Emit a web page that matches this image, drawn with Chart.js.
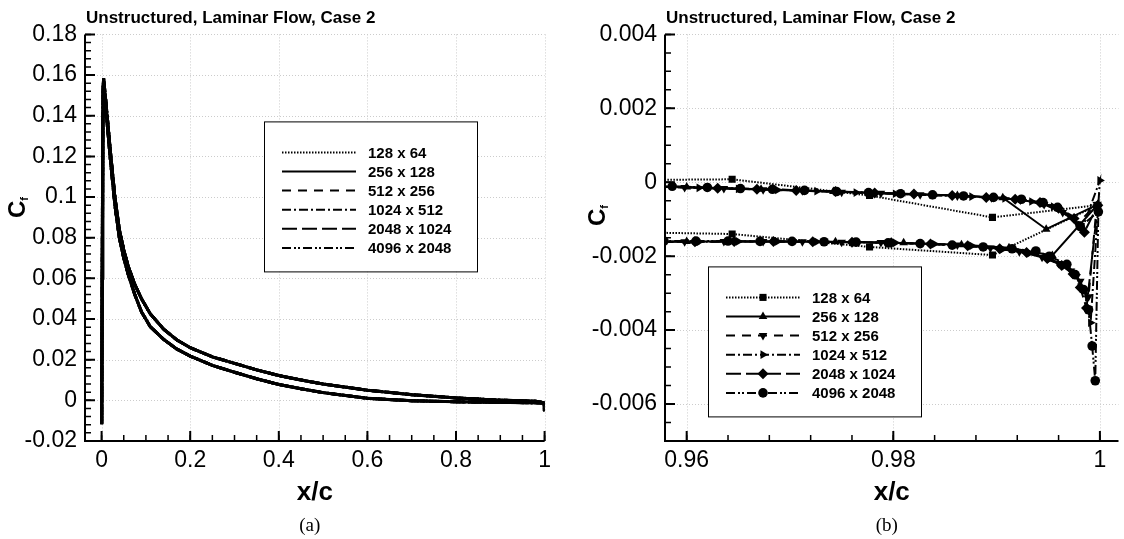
<!DOCTYPE html>
<html>
<head>
<meta charset="utf-8">
<title>Cf - unstructured laminar case 2</title>
<script src="https://cdn.jsdelivr.net/npm/chart.js@4.4.0/dist/chart.umd.min.js"></script>
<style>
  html, body { margin: 0; padding: 0; background: #fff; }
  body { width: 1124px; height: 539px; position: relative; overflow: hidden; }
  .panel { position: absolute; top: 0; height: 539px; }
  #wrapA { left: 0; width: 560px; }
  #wrapB { left: 560px; width: 564px; }
</style>
</head>
<body>
<div class="panel" id="wrapA"><canvas id="cfFull"></canvas></div>
<div class="panel" id="wrapB"><canvas id="cfTrail"></canvas></div>
<script>
const sans = "'Liberation Sans', Arial, Helvetica, sans-serif";
const serif = "'Liberation Serif', 'Times New Roman', serif";

// grid resolutions (legend entries)
const gridLabels = ['128 x 64', '256 x 128', '512 x 256', '1024 x 512', '2048 x 1024', '4096 x 2048'];

// (a) whole chord, one loop TE -> LE -> TE (all grids lie on top of each other)
const chordX = [1.0, 0.98, 0.9, 0.8, 0.7, 0.6, 0.5, 0.45, 0.4, 0.35, 0.3, 0.25, 0.2, 0.17, 0.14, 0.11, 0.09, 0.075, 0.06, 0.05, 0.04, 0.03, 0.02, 0.01, 0.006, 0.003, 0.0008, 0.0003,
                0.0012, 0.003, 0.0045, 0.01, 0.02, 0.03, 0.04, 0.05, 0.06, 0.075, 0.09, 0.11, 0.14, 0.17, 0.2, 0.25, 0.3, 0.35, 0.4, 0.45, 0.5, 0.6, 0.7, 0.8, 0.9, 0.98, 0.999, 0.9996];
const chordCf = [-0.0013, -0.0012, -0.0010, -0.0007, -0.0002, 0.0010, 0.0038, 0.0057, 0.0078, 0.0106, 0.0138, 0.0172, 0.0218, 0.0252, 0.0300, 0.0362, 0.0435, 0.0520, 0.0620, 0.0700, 0.0800, 0.0960, 0.1180, 0.1420, 0.1500, 0.1380, 0.0200, -0.0118,
                 0.0600, 0.1520, 0.1584, 0.1460, 0.1220, 0.1000, 0.0840, 0.0740, 0.0660, 0.0570, 0.0500, 0.0425, 0.0350, 0.0297, 0.0259, 0.0214, 0.0182, 0.0150, 0.0122, 0.0100, 0.0080, 0.0050, 0.0028, 0.0012, 0.0001, -0.0005, -0.0012, -0.0054];

// (b) trailing edge close-up, upper side -> TE -> lower side
const te128X  = [0.9500, 0.9644, 0.9777, 0.9896, 0.9998, 0.9896, 0.9777, 0.9644, 0.9500];
const te128Cf = [0.00005, 0.00008, -0.00036, -0.00095, -0.00062, -0.00197, -0.00175, -0.00140, -0.00133];

const te256X  = [0.9530, 0.9600, 0.9672, 0.9742, 0.9808, 0.9862, 0.9906, 0.9948, 0.9998, 0.9954, 0.9912, 0.9866, 0.9810, 0.9744, 0.9672, 0.9600, 0.9530];
const te256Cf = [-0.00009, -0.00013, -0.00019, -0.00025, -0.00031, -0.00036, -0.00042, -0.00127, -0.00060, -0.00198, -0.00177, -0.00169, -0.00164, -0.00161, -0.00160, -0.00160, -0.00161];

const te512X  = [0.9560, 0.9598, 0.9636, 0.9674, 0.9712, 0.9750, 0.9788, 0.9826, 0.9862, 0.9895, 0.9923, 0.9946, 0.9964, 0.9978, 0.9997,
                 0.9989, 0.9981, 0.9972, 0.9960, 0.9944, 0.9922, 0.9894, 0.9862, 0.9826, 0.9788, 0.9750, 0.9712, 0.9674, 0.9636, 0.9598, 0.9560];
const te512Cf = [-0.00011, -0.00014, -0.00017, -0.00020, -0.00023, -0.00027, -0.00030, -0.00034, -0.00037, -0.00042, -0.00048, -0.00060, -0.00082, -0.00112, -0.00060,
                 -0.00310, -0.00268, -0.00240, -0.00220, -0.00203, -0.00188, -0.00178, -0.00170, -0.00166, -0.00163, -0.00162, -0.00161, -0.00160, -0.00160, -0.00161, -0.00162];

const te1024X  = [0.9575, 0.9612, 0.9650, 0.9688, 0.9726, 0.9764, 0.9802, 0.9840, 0.9876, 0.9908, 0.9934, 0.9955, 0.9971, 0.9983, 1.0000,
                  0.9991, 0.9985, 0.9977, 0.9966, 0.9952, 0.9932, 0.9906, 0.9876, 0.9840, 0.9802, 0.9764, 0.9726, 0.9688, 0.9650, 0.9612, 0.9575];
const te1024Cf = [-0.00012, -0.00015, -0.00018, -0.00021, -0.00024, -0.00028, -0.00031, -0.00035, -0.00039, -0.00044, -0.00052, -0.00066, -0.00092, -0.00125, 0.00005,
                  -0.00380, -0.00290, -0.00250, -0.00226, -0.00207, -0.00192, -0.00181, -0.00172, -0.00167, -0.00164, -0.00162, -0.00161, -0.00160, -0.00160, -0.00161, -0.00161];

const te2048X  = [0.9555, 0.9630, 0.9668, 0.9706, 0.9744, 0.9782, 0.9820, 0.9857, 0.9890, 0.9918, 0.9942, 0.9960, 0.9975, 0.9985, 0.9998,
                  0.9987, 0.9981, 0.9974, 0.9963, 0.9949, 0.9929, 0.9903, 0.9872, 0.9836, 0.9798, 0.9760, 0.9722, 0.9684, 0.9646, 0.9608, 0.9572];
const te2048Cf = [-0.00011, -0.00016, -0.00019, -0.00022, -0.00025, -0.00029, -0.00032, -0.00036, -0.00041, -0.00046, -0.00055, -0.00070, -0.00098, -0.00135, -0.00062,
                  -0.00340, -0.00285, -0.00248, -0.00225, -0.00206, -0.00190, -0.00180, -0.00172, -0.00167, -0.00164, -0.00162, -0.00161, -0.00160, -0.00160, -0.00161, -0.00161];

const te4096X  = [0.9550, 0.9586, 0.9620, 0.9652, 0.9683, 0.9714, 0.9745, 0.9776, 0.9807, 0.9838, 0.9868, 0.9897, 0.9924, 0.9945, 0.9959, 0.9981, 0.99985,
                  0.99955, 0.99925, 0.9989, 0.9984, 0.9976, 0.9968, 0.9951, 0.9938, 0.9915, 0.9887, 0.9857, 0.9826, 0.9795, 0.9764, 0.9733, 0.9702, 0.9671, 0.9640, 0.9609, 0.9578, 0.9550];
const te4096Cf = [-0.00010, -0.00011, -0.00014, -0.00017, -0.00019, -0.00022, -0.00025, -0.00028, -0.00031, -0.00034, -0.00037, -0.00041, -0.00046, -0.00055, -0.00068, -0.00120, -0.00080,
                  -0.00537, -0.00443, -0.00345, -0.00290, -0.00250, -0.00222, -0.00200, -0.00186, -0.00180, -0.00175, -0.00170, -0.00166, -0.00164, -0.00162, -0.00161, -0.00160, -0.00160, -0.00159, -0.00159, -0.00159, -0.00160];

const teX  = [te128X, te256X, te512X, te1024X, te2048X, te4096X];
const teCf = [te128Cf, te256Cf, te512Cf, te1024Cf, te2048Cf, te4096Cf];

// tick labels
const xTicksA = [0, 0.2, 0.4, 0.6, 0.8, 1];
const yTicksA = [-0.02, 0, 0.02, 0.04, 0.06, 0.08, 0.1, 0.12, 0.14, 0.16, 0.18];
const xTicksB = [0.96, 0.98, 1];
const yTicksB = [-0.006, -0.004, -0.002, 0, 0.002, 0.004];

// line look per grid
const dashes = [[1.5, 1.5], [], [9, 7], [9, 3, 2, 3], [15, 5], [9, 3, 2, 2, 2, 3]];
const markers = ['rect', 'triangle', 'triangle', 'triangle', 'rectRot', 'circle'];
const markerTurn = [0, 0, 180, 90, 0, 0];
const markerSize = [5, 5, 5, 5, 5.5, 4.8];

const fmt = v => String(+Number(v).toFixed(6));

function minorValues(min, max, step) {
  const out = [];
  const n0 = Math.ceil(min / step - 1e-9), n1 = Math.floor(max / step + 1e-9);
  for (let n = n0; n <= n1; n++) out.push(n * step);
  return out;
}

// dotted grid, inward ticks, axis lines, boxed legend and the text around the plot
const paper = {
  id: 'paper',
  beforeDatasetsDraw(chart, args, o) {
    const {ctx, chartArea: a} = chart;
    const sx = chart.scales.x, sy = chart.scales.y;
    ctx.save();
    ctx.strokeStyle = '#cccccc';
    ctx.lineWidth = 1;
    ctx.setLineDash([1, 2]);
    ctx.beginPath();
    sx.ticks.forEach(t => {
      const p = Math.round(sx.getPixelForValue(t.value)) + 0.5;
      ctx.moveTo(p, a.top); ctx.lineTo(p, a.bottom);
    });
    sy.ticks.forEach(t => {
      const p = Math.round(sy.getPixelForValue(t.value)) + 0.5;
      ctx.moveTo(a.left, p); ctx.lineTo(a.right, p);
    });
    ctx.stroke();
    ctx.restore();
  },
  afterDatasetsDraw(chart, args, o) {
    const {ctx, chartArea: a} = chart;
    const sx = chart.scales.x, sy = chart.scales.y;
    ctx.save();
    ctx.strokeStyle = '#000';
    ctx.setLineDash([]);

    ctx.lineWidth = 1.5;
    ctx.beginPath();
    minorValues(sx.min, sx.max, o.minorX).forEach(v => {
      const p = sx.getPixelForValue(v);
      ctx.moveTo(p, a.bottom); ctx.lineTo(p, a.bottom - 6);
    });
    minorValues(sy.min, sy.max, o.minorY).forEach(v => {
      const p = sy.getPixelForValue(v);
      ctx.moveTo(a.left, p); ctx.lineTo(a.left + 6, p);
    });
    ctx.stroke();

    ctx.lineWidth = 2;
    ctx.beginPath();
    sx.ticks.forEach(t => {
      const p = sx.getPixelForValue(t.value);
      ctx.moveTo(p, a.bottom); ctx.lineTo(p, a.bottom - 10);
    });
    sy.ticks.forEach(t => {
      const p = sy.getPixelForValue(t.value);
      ctx.moveTo(a.left, p); ctx.lineTo(a.left + 10, p);
    });
    ctx.moveTo(a.left, a.top);
    ctx.lineTo(a.left, a.bottom);
    ctx.lineTo(a.right, a.bottom);
    ctx.stroke();

    // legend box
    const bx = a.left + o.legendDx, by = a.top + o.legendDy;
    ctx.fillStyle = '#fff';
    ctx.fillRect(bx, by, 213, 150);
    ctx.lineWidth = 1;
    ctx.strokeRect(bx + 0.5, by + 0.5, 213, 150);
    chart.data.datasets.forEach((ds, i) => {
      const ry = by + 31 + i * 19.1;
      ctx.lineWidth = 2;
      ctx.setLineDash(ds.borderDash);
      ctx.beginPath();
      ctx.moveTo(bx + 18, ry); ctx.lineTo(bx + 92, ry);
      ctx.stroke();
      ctx.setLineDash([]);
      if (ds.pointRadius > 0) {
        ctx.fillStyle = '#000';
        Chart.helpers.drawPoint(ctx, {pointStyle: ds.pointStyle, rotation: ds.pointRotation, radius: ds.pointRadius, borderWidth: 0}, bx + 55, ry);
      }
      ctx.fillStyle = '#000';
      ctx.font = 'bold 15px ' + sans;
      ctx.textAlign = 'left';
      ctx.textBaseline = 'middle';
      ctx.fillText(ds.label, bx + 104, ry + 1);
    });

    // title
    ctx.fillStyle = '#000';
    ctx.font = 'bold 17px ' + sans;
    ctx.textAlign = 'left';
    ctx.textBaseline = 'alphabetic';
    ctx.fillText(o.title, a.left + 1, 23);

    // caption
    ctx.font = '19px ' + serif;
    ctx.textAlign = 'center';
    ctx.fillText(o.caption, (a.left + a.right) / 2 - 5, 531);

    // C_f, rotated, with subscript
    ctx.translate(a.left - 60, o.cfY);
    ctx.rotate(-Math.PI / 2);
    ctx.font = 'bold 24px ' + sans;
    ctx.textAlign = 'left';
    ctx.fillText('C', 0, 0);
    const w = ctx.measureText('C').width;
    ctx.font = 'bold 11px ' + sans;
    ctx.fillText('f', w, 3);
    ctx.restore();
  }
};

function axisX(min, max, ticks) {
  return {
    type: 'linear', min, max,
    afterBuildTicks: s => { s.ticks = ticks.map(v => ({value: v})); },
    afterFit: s => { s.height = 98; },
    grid: {display: false, drawTicks: false},
    border: {display: false},
    ticks: {color: '#000', font: {family: sans, size: 23}, padding: 6, maxRotation: 0, autoSkip: false, callback: fmt},
    title: {display: true, text: 'x/c', color: '#000', font: {family: sans, size: 26, weight: 'bold'}, padding: {top: 0, bottom: 31}}
  };
}

function axisY(min, max, ticks, width) {
  return {
    type: 'linear', min, max,
    afterBuildTicks: s => { s.ticks = ticks.map(v => ({value: v})); },
    afterFit: s => { s.width = width; },
    grid: {display: false, drawTicks: false},
    border: {display: false},
    ticks: {color: '#000', font: {family: sans, size: 23}, padding: 8, autoSkip: false, callback: fmt}
  };
}

// (a) full chord
new Chart(document.getElementById('cfFull'), {
  type: 'scatter',
  data: {
    datasets: gridLabels.map((label, i) => ({
      label,
      data: chordX.map((x, k) => ({x, y: chordCf[k]})),
      showLine: true,
      borderColor: '#000',
      backgroundColor: '#000',
      borderWidth: 3,
      borderDash: dashes[i],
      pointRadius: 0,
      pointStyle: markers[i],
      pointRotation: markerTurn[i],
      tension: 0
    }))
  },
  options: {
    responsive: true,
    maintainAspectRatio: false,
    animation: false,
    events: [],
    layout: {padding: {left: 0, right: 15.4, top: 34.4, bottom: 0}},
    scales: {x: axisX(-0.0375, 1.0, xTicksA), y: axisY(-0.02, 0.18, yTicksA, 85)},
    plugins: {
      legend: {display: false},
      tooltip: {enabled: false},
      paper: {title: 'Unstructured, Laminar Flow, Case 2', caption: '(a)', minorX: 0.05, minorY: 0.004,
              legendDx: 179, legendDy: 87, cfY: 218}
    }
  },
  plugins: [paper]
});

// (b) trailing edge close-up
new Chart(document.getElementById('cfTrail'), {
  type: 'scatter',
  data: {
    datasets: gridLabels.map((label, i) => ({
      label,
      data: teX[i].map((x, k) => ({x, y: teCf[i][k]})),
      showLine: true,
      borderColor: '#000',
      backgroundColor: '#000',
      borderWidth: 2,
      borderDash: dashes[i],
      pointRadius: markerSize[i],
      pointBorderWidth: 0,
      pointStyle: markers[i],
      pointRotation: markerTurn[i],
      tension: 0
    }))
  },
  options: {
    responsive: true,
    maintainAspectRatio: false,
    animation: false,
    events: [],
    layout: {padding: {left: 0, right: 0, top: 34.4, bottom: 0}},
    scales: {x: axisX(0.9579, 1.0018, xTicksB), y: axisY(-0.007, 0.004, yTicksB, 105)},
    plugins: {
      legend: {display: false},
      tooltip: {enabled: false},
      paper: {title: 'Unstructured, Laminar Flow, Case 2', caption: '(b)', minorX: 0.004, minorY: 0.0005,
              legendDx: 43, legendDy: 232, cfY: 226}
    }
  },
  plugins: [paper]
});
</script>
</body>
</html>
